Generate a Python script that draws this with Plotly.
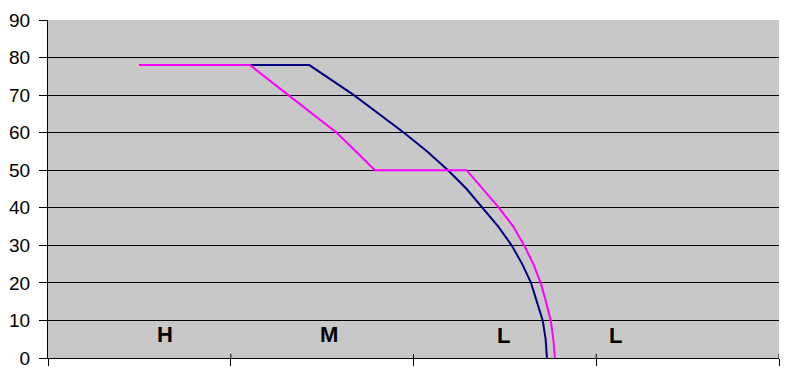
import plotly.graph_objects as go

# Data
blue_x = [0.498, 1.430, 1.674, 1.812, 1.948, 2.075, 2.189, 2.291, 2.380, 2.464, 2.537,
          2.595, 2.643, 2.677, 2.707, 2.723, 2.730]
blue_y = [78, 78, 70, 65, 60, 55, 50, 45, 40, 35, 30, 25, 20, 15, 10, 5, 0]

pink_x = [0.498, 1.105, 1.315, 1.448, 1.580, 1.685, 1.789, 2.291, 2.382, 2.468, 2.546,
          2.605, 2.656, 2.696, 2.725, 2.751, 2.765, 2.774]
pink_y = [78, 78, 70, 65, 60, 55, 50, 50, 45, 40, 35, 30, 25, 20, 15, 10, 5, 0]

zone_labels = ["H", "M", "L", "L"]
zone_x = [0.638, 1.540, 2.495, 3.103]
zone_y = [6.3, 6.3, 6.0, 6.0]

y_ticks = [0, 10, 20, 30, 40, 50, 60, 70, 80, 90]
x_ticks = [0, 1, 2, 3, 4]

fig = go.Figure()
fig.add_trace(go.Scatter(x=blue_x, y=blue_y, mode="lines",
                         line=dict(color="#000080", width=2), showlegend=False))
fig.add_trace(go.Scatter(x=pink_x, y=pink_y, mode="lines",
                         line=dict(color="#FF00FF", width=2), showlegend=False))

for t, xv, yv in zip(zone_labels, zone_x, zone_y):
    fig.add_annotation(x=xv, y=yv, text=f"<b>{t}</b>", showarrow=False,
                       font=dict(family="Liberation Sans, Arial", size=22, color="black"))

# upper part of the crossing x ticks
for xv in x_ticks[1:]:
    fig.add_shape(type="line", x0=xv, x1=xv, y0=0, y1=1.1, xref="x", yref="y",
                  line=dict(color="black", width=1))

fig.update_layout(
    width=788, height=384,
    margin=dict(l=48, r=9, t=20, b=26),
    paper_bgcolor="white",
    plot_bgcolor="#c8c8c8",
    font=dict(family="Liberation Sans, Arial", color="black"),
)
fig.update_xaxes(range=[0, 4], tickvals=x_ticks, showticklabels=False, ticks="outside",
                 ticklen=7, tickcolor="black", showgrid=False, zeroline=False,
                 showline=True, linecolor="black", linewidth=1)
fig.update_yaxes(range=[0, 90], tickvals=y_ticks, ticks="outside", ticklen=8,
                 tickcolor="black", showgrid=True, gridcolor="black", gridwidth=1,
                 zeroline=False, showline=True, linecolor="black", linewidth=1,
                 tickfont=dict(size=19, family="Liberation Sans, Arial", color="black"),
                 ticklabelstandoff=5)

fig.write_html("out.html")
